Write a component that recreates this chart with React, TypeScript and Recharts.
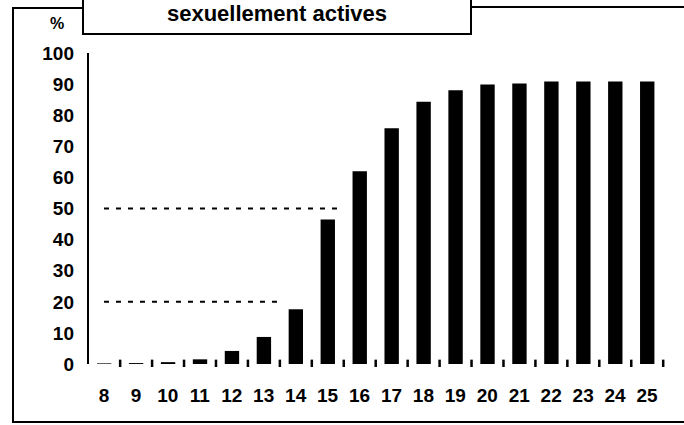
import { BarChart, Bar, XAxis, YAxis, ReferenceLine } from 'recharts'

// ages (x categories) and share of sexually active (%)
const ages = [8, 9, 10, 11, 12, 13, 14, 15, 16, 17, 18, 19, 20, 21, 22, 23, 24, 25]
const actives = [0.2, 0.3, 0.6, 1.5, 4.2, 8.7, 17.6, 46.5, 62, 75.8, 84.3, 88, 89.9, 90.2, 90.8, 90.8, 90.8, 90.8]
// little separator marks drawn between the bars on the baseline
const separators = [8.5, 9.5, 10.5, 11.5, 12.5, 13.5, 14.5, 15.5, 16.5, 17.5, 18.5, 19.5, 20.5, 21.5, 22.5, 23.5, 24.5, 25.5]
const markHeight = 1.4
const yTicks = [0, 10, 20, 30, 40, 50, 60, 70, 80, 90, 100]

const data = [
  ...ages.map((age, i) => ({ age, value: actives[i] })),
  ...separators.map((age) => ({ age, mark: markHeight })),
].sort((a, b) => a.age - b.age)

const FONT = '"Liberation Sans", Arial, sans-serif'

// thin tick-like mark centred on the slot the library gives it
const Mark = (props: any) => {
  const { x, y, width, height } = props
  if (!height) return null
  return <rect x={x + width / 2 - 1.25} y={y} width={2.5} height={height + 3} fill="#000" />
}

export default function App() {
  return (
    <div style={{ position: 'absolute', left: 0, top: 0, width: 684, height: 425, background: '#fff', overflow: 'hidden' }}>
      {/* frame around the figure */}
      <div style={{ position: 'absolute', left: 12, top: 7, width: 2, height: 416, background: '#000' }} />
      <div style={{ position: 'absolute', left: 12, top: 7, width: 72, height: 2, background: '#000' }} />
      <div style={{ position: 'absolute', left: 470, top: 6, width: 214, height: 2, background: '#000' }} />
      <div style={{ position: 'absolute', left: 12, top: 421, width: 672, height: 2, background: '#000' }} />
      <div
        style={{
          position: 'absolute',
          left: 82,
          top: -4,
          width: 386,
          height: 35,
          border: '2px solid #000',
          background: '#fff',
          textAlign: 'center',
          fontFamily: FONT,
          fontWeight: 'bold',
          fontSize: 22,
          lineHeight: '22px',
          zIndex: 2,
        }}
      >
        <div style={{ marginTop: 5 }}>sexuellement actives</div>
      </div>
      <div style={{ position: 'absolute', left: 50, top: 15, fontFamily: FONT, fontWeight: 'bold', fontSize: 16 }}>%</div>

      <div style={{ position: 'absolute', left: 0, top: 0 }}>
        <BarChart width={684} height={425} data={data} margin={{ top: 53, right: 21, bottom: 31, left: 8 }}>
          <XAxis
            dataKey="age"
            type="number"
            domain={[7.5, 25.5]}
            ticks={ages}
            interval={0}
            height={30}
            axisLine={false}
            tickLine={false}
            tickSize={0}
            tickMargin={25}
            tick={{ fontSize: 19, fontWeight: 'bold', fontFamily: FONT, fill: '#000' }}
          />
          <YAxis
            type="number"
            domain={[0, 100]}
            ticks={yTicks}
            interval={0}
            width={80}
            axisLine={{ stroke: '#000', strokeWidth: 2 }}
            tickLine={false}
            tickSize={0}
            tickMargin={14}
            tick={{ fontSize: 19, fontWeight: 'bold', fontFamily: FONT, fill: '#000' }}
          />
          <ReferenceLine
            segment={[{ x: 8, y: 50 }, { x: 15.5, y: 50 }]}
            stroke="#000"
            strokeWidth={2}
            strokeDasharray="5 7"
          />
          <ReferenceLine
            segment={[{ x: 8, y: 20 }, { x: 13.58, y: 20 }]}
            stroke="#000"
            strokeWidth={2}
            strokeDasharray="5 7"
          />
          <Bar dataKey="value" stackId="s" fill="#000" barSize={20} isAnimationActive={false} />
          <Bar dataKey="mark" stackId="s" fill="#000" barSize={20} shape={Mark} isAnimationActive={false} />
        </BarChart>
      </div>
    </div>
  )
}
